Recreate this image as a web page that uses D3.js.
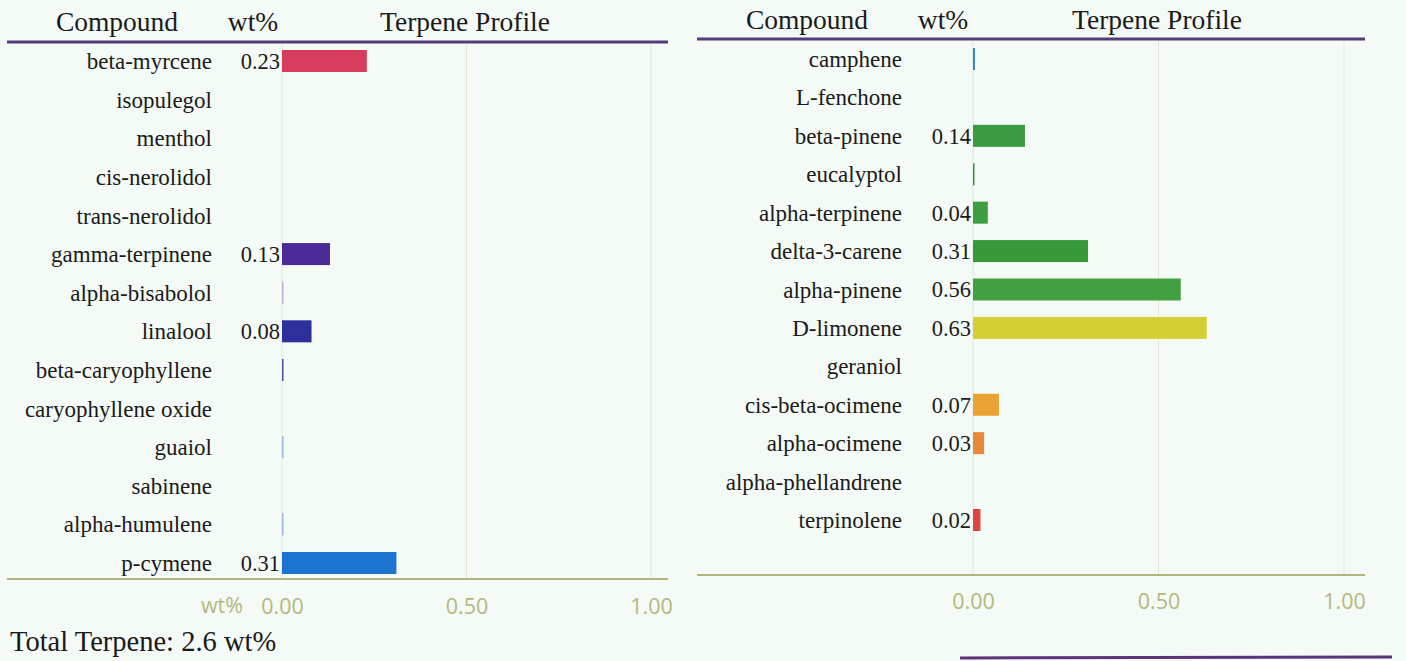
<!DOCTYPE html>
<html>
<head>
<meta charset="utf-8">
<script src="https://cdn.jsdelivr.net/npm/d3@7"></script>
<style>
  body { margin: 0; background: #f4faf6; }
  svg { display: block; }
</style>
</head>
<body>
<div id="chart"></div>
<script>
// left table
var leftNames = ["beta-myrcene", "isopulegol", "menthol", "cis-nerolidol", "trans-nerolidol",
  "gamma-terpinene", "alpha-bisabolol", "linalool", "beta-caryophyllene", "caryophyllene oxide",
  "guaiol", "sabinene", "alpha-humulene", "p-cymene"];
var leftValues = [0.23, 0, 0, 0, 0, 0.13, 0.002, 0.08, 0.004, 0, 0.002, 0, 0.002, 0.31];
var leftColors = ["#d83c5c", "#888", "#888", "#888", "#888", "#4b2b98", "#b8b0d0", "#2d2f9c",
  "#4c4c9e", "#888", "#9ab6d8", "#888", "#9ab6d8", "#1a74d0"];

// right table
var rightNames = ["camphene", "L-fenchone", "beta-pinene", "eucalyptol", "alpha-terpinene",
  "delta-3-carene", "alpha-pinene", "D-limonene", "geraniol", "cis-beta-ocimene",
  "alpha-ocimene", "alpha-phellandrene", "terpinolene"];
var rightValues = [0.005, 0, 0.14, 0.004, 0.04, 0.31, 0.56, 0.63, 0, 0.07, 0.03, 0, 0.02];
var rightColors = ["#1c80d4", "#888", "#3a9c40", "#3a8a48", "#3f9e42", "#369a3a", "#42a042",
  "#d5cf36", "#888", "#eaa232", "#e8883a", "#888", "#e0443e"];

var tickValues = [0, 0.5, 1];
var totalLabel = "Total Terpene: 2.6 wt%";

var width = 1406, height = 661;
var serif = "'Liberation Serif', 'Times New Roman', serif";
var tickColor = "#b2b97c";
var fmt = d3.format(".2f");

var svg = d3.select("#chart").append("svg")
  .attr("width", width)
  .attr("height", height);

svg.append("rect").attr("width", width).attr("height", height).attr("fill", "#f4faf6");

function drawPanel(p) {
  var x = d3.scaleLinear().domain([0, 1]).range([p.x0, p.x1]);
  var y = d3.scalePoint().domain(p.names).range([p.yTop, p.yBottom]).padding(0.5);
  var g = svg.append("g");

  // header
  var head = g.append("g")
    .attr("font-family", serif)
    .attr("font-size", 27.5)
    .attr("fill", "#1a1a1a")
    .attr("text-anchor", "middle");
  head.append("text").attr("x", p.compoundX).attr("y", p.headY).text("Compound");
  head.append("text").attr("x", p.wtX).attr("y", p.headY).text("wt%");
  head.append("text").attr("x", p.profileX).attr("y", p.headY).text("Terpene Profile");

  // faint grid
  g.selectAll(".grid")
    .data(tickValues)
    .enter()
    .append("line")
    .attr("x1", function(d){ return x(d); })
    .attr("x2", function(d){ return x(d); })
    .attr("y1", p.lineY + 2)
    .attr("y2", p.axisY)
    .attr("stroke", "#e3e8d6")
    .attr("stroke-width", 1);

  g.append("line")
    .attr("x1", p.lineL).attr("x2", p.lineR)
    .attr("y1", p.lineY).attr("y2", p.lineY)
    .attr("stroke", "#553a7c")
    .attr("stroke-width", 3);

  g.append("line")
    .attr("x1", p.lineL).attr("x2", p.lineR)
    .attr("y1", p.axisY).attr("y2", p.axisY)
    .attr("stroke", "#b0b67a")
    .attr("stroke-width", 2);

  var rows = p.names.map(function(n, i){
    return { name: n, value: p.values[i], color: p.colors[i] };
  });

  // compound names
  g.selectAll(".name")
    .data(rows)
    .enter()
    .append("text")
    .attr("x", p.nameX)
    .attr("y", function(d){ return y(d.name); })
    .attr("dy", "0.35em")
    .attr("text-anchor", "end")
    .attr("font-family", serif)
    .attr("font-size", 23)
    .attr("fill", "#1a1a1a")
    .text(function(d){ return d.name; });

  // bars
  g.selectAll(".bar")
    .data(rows.filter(function(d){ return d.value > 0; }))
    .enter()
    .append("rect")
    .attr("x", x(0))
    .attr("y", function(d){ return y(d.name) - 11; })
    .attr("width", function(d){ return Math.max(1.5, x(d.value) - x(0)); })
    .attr("height", 22)
    .attr("fill", function(d){ return d.color; });

  // values
  g.selectAll(".val")
    .data(rows.filter(function(d){ return d.value >= 0.01; }))
    .enter()
    .append("text")
    .attr("x", x(0) - 2)
    .attr("y", function(d){ return y(d.name); })
    .attr("dy", "0.35em")
    .attr("text-anchor", "end")
    .attr("font-family", serif)
    .attr("font-size", 22.5)
    .attr("fill", "#1a1a1a")
    .text(function(d){ return fmt(d.value); });

  // bottom axis labels
  var axis = g.append("g")
    .attr("transform", "translate(0," + (p.axisY + p.tickGap) + ")")
    .call(d3.axisBottom(x).tickValues(tickValues).tickFormat(fmt).tickSize(0));
  axis.select(".domain").remove();
  axis.selectAll("text")
    .attr("font-family", "'Open Sans', sans-serif")
    .attr("font-size", 21.5)
    .attr("fill", tickColor);

  if (p.axisTitle) {
    g.append("text")
      .attr("x", x(0) - 39)
      .attr("y", p.axisY + p.tickGap + 17)
      .attr("text-anchor", "end")
      .attr("font-family", "'Open Sans', sans-serif")
      .attr("font-size", 21.5)
      .attr("fill", tickColor)
      .text(p.axisTitle);
  }
}

drawPanel({
  names: leftNames, values: leftValues, colors: leftColors,
  x0: 282, x1: 651, yTop: 41.7, yBottom: 582.3,
  headY: 31, lineY: 42, lineL: 7, lineR: 668, axisY: 579, tickGap: 17,
  compoundX: 117, wtX: 253, profileX: 465, nameX: 212,
  axisTitle: "wt%"
});

drawPanel({
  names: rightNames, values: rightValues, colors: rightColors,
  x0: 973, x1: 1344, yTop: 39.8, yBottom: 539.2,
  headY: 29, lineY: 39, lineL: 697, lineR: 1365, axisY: 575, tickGap: 16,
  compoundX: 807, wtX: 943, profileX: 1157, nameX: 902,
  axisTitle: null
});

svg.append("text")
  .attr("x", 10)
  .attr("y", 651)
  .attr("font-family", serif)
  .attr("font-size", 28.5)
  .attr("fill", "#1a1a1a")
  .text(totalLabel);

// cut-off rule of the next section
svg.append("line")
  .attr("x1", 960).attr("x2", 1392)
  .attr("y1", 658).attr("y2", 657)
  .attr("stroke", "#5a3478")
  .attr("stroke-width", 3);
</script>
</body>
</html>
